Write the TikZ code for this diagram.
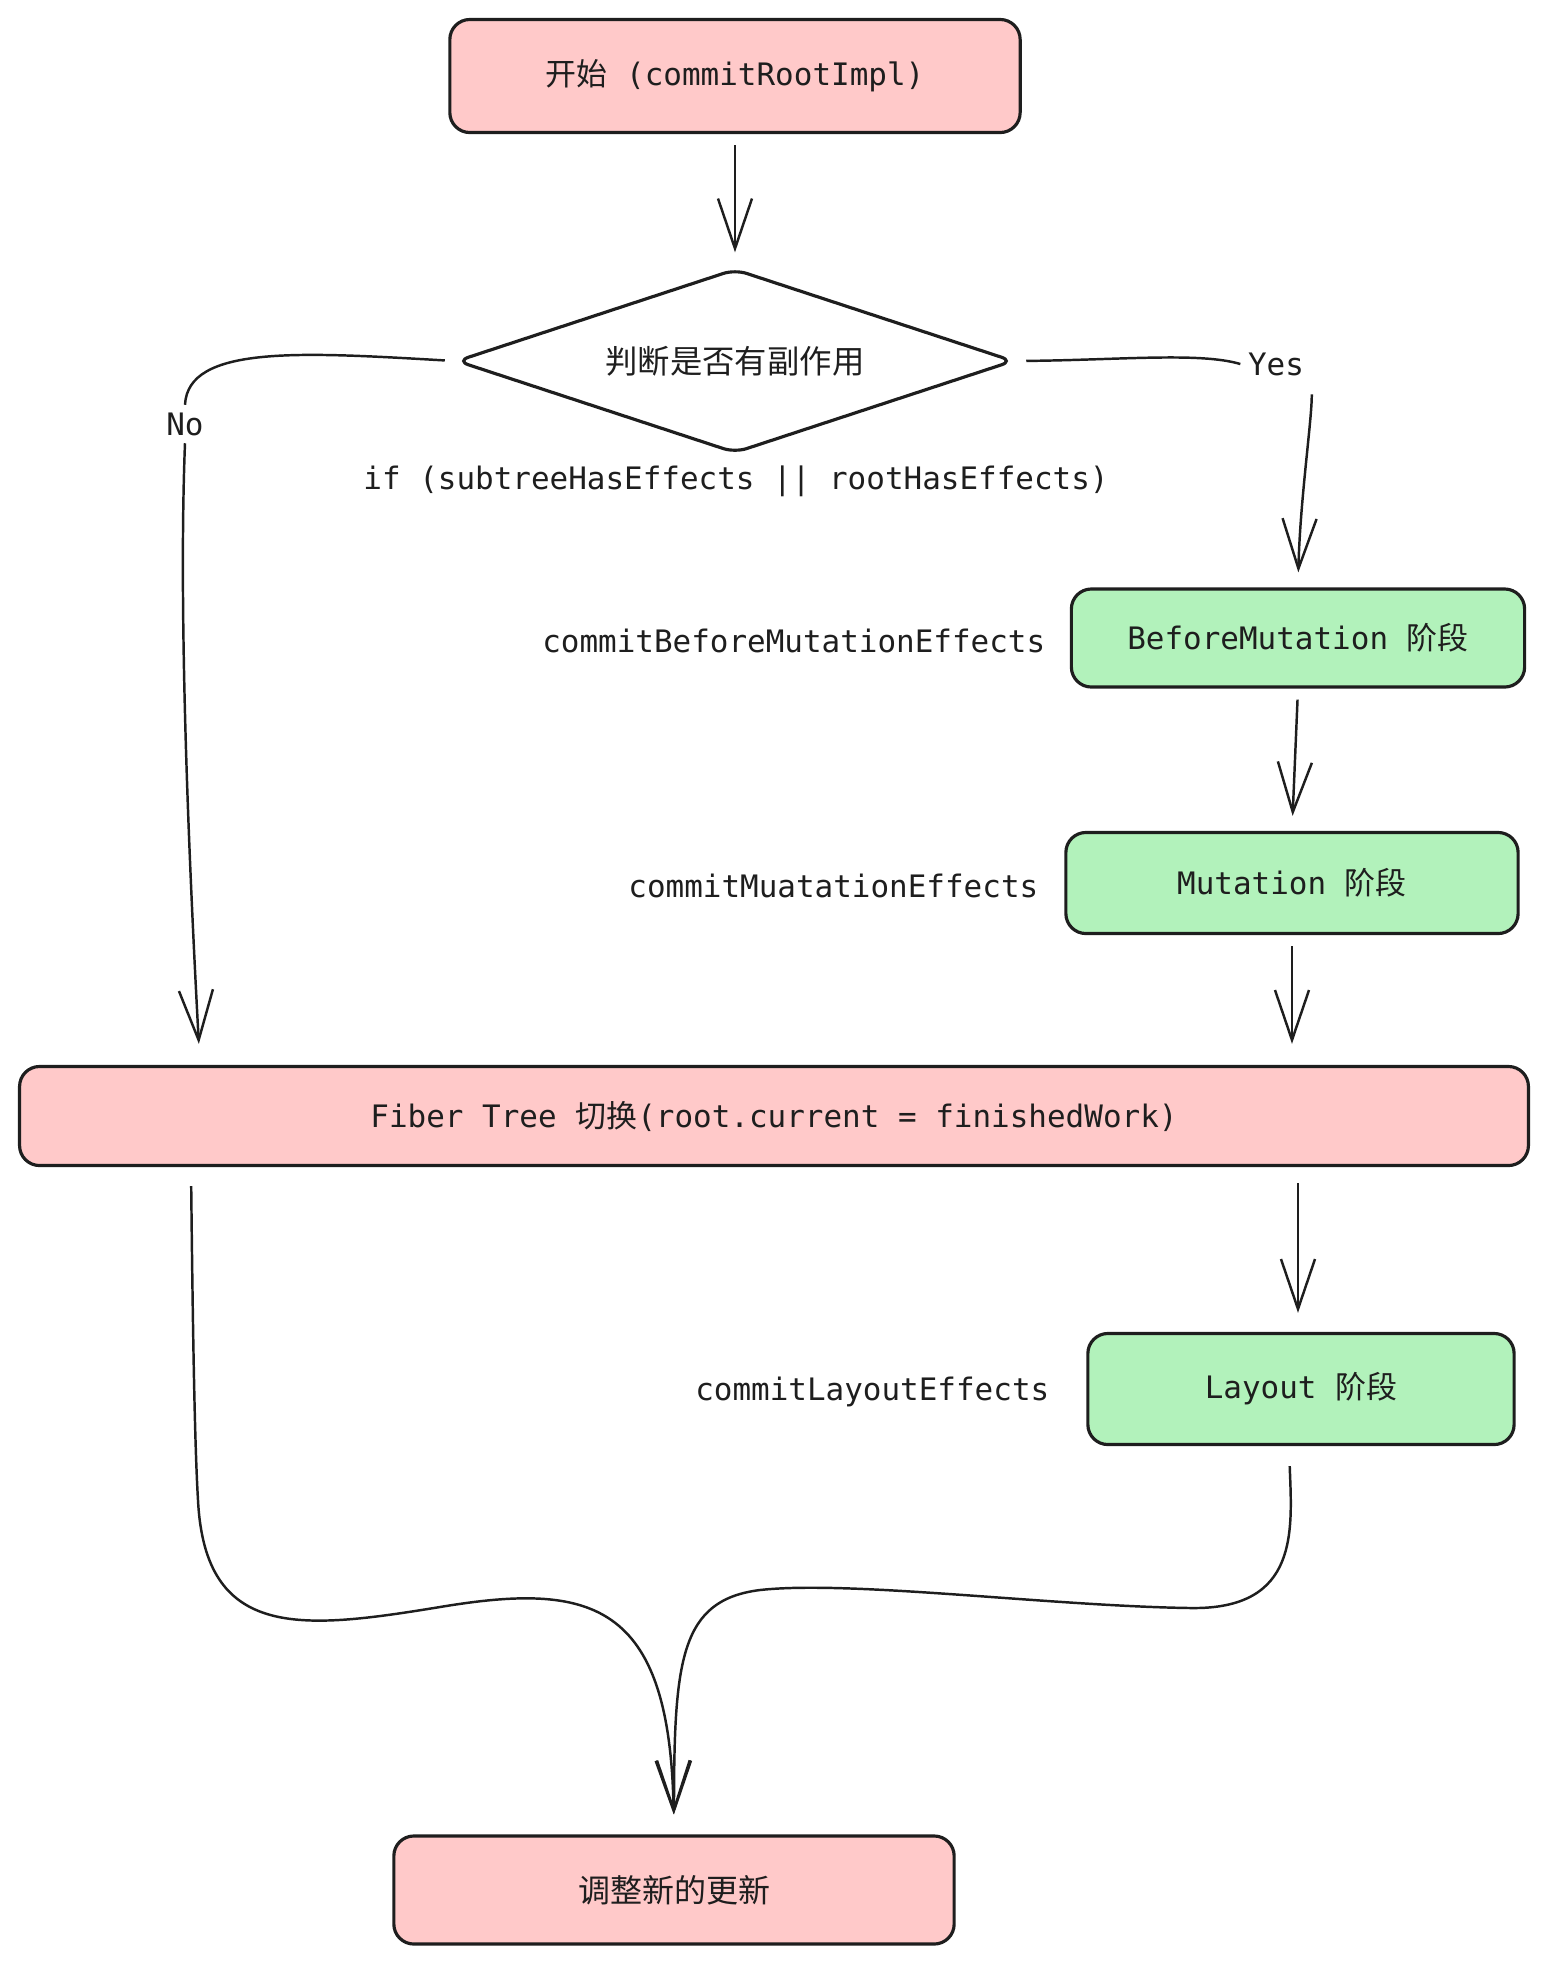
\documentclass[tikz,border=0pt]{standalone}
\usepackage{fontspec}
\setmonofont{DejaVu Sans Mono}
\newfontfamily\cjk{Noto Sans CJK SC}
\usetikzlibrary{arrows.meta,shapes.geometric}
\definecolor{boxpink}{HTML}{FFC9C9}
\definecolor{boxgreen}{HTML}{B2F2BB}
\definecolor{ink}{HTML}{1E1E1E}

\begin{document}
\begin{tikzpicture}[x=0.01cm,y=-0.01cm,
  txt/.style={font=\fontsize{8.8pt}{10pt}\ttfamily, text=ink, inner sep=0pt},
  stepbox/.style={draw=ink, line width=0.9pt, rounded corners=0.2cm, inner sep=0pt,
    font=\fontsize{8.8pt}{10pt}\ttfamily, text=ink},
  pinkbox/.style={stepbox, fill=boxpink},
  greenbox/.style={stepbox, fill=boxgreen},
  tip/.style={-{Straight Barb[length=5mm,width=3.4mm,line width=0.7pt]}},
  link/.style={draw=ink, line width=0.7pt},
  flow/.style={link, tip, shorten >=0.15cm, shorten <=0.11cm},
  branch/.style={txt, fill=white, inner sep=2pt}
]
\useasboundingbox (0,0) rectangle (1548,1962);

% boxes
\node[pinkbox, minimum width=5.7cm, minimum height=1.13cm] (start) at (735,76)
  {{\cjk 开始} (commitRootImpl)};
\node[diamond, draw=ink, line width=0.9pt, rounded corners=0.12cm, minimum width=5.57cm, minimum height=1.84cm,
  inner sep=0pt, aspect=3, text=ink, font=\cjk\fontsize{9.2pt}{11pt}\selectfont] (dec) at (735,361)
  {判断是否有副作用};
\node[txt] (cond) at (736,481) {if (subtreeHasEffects || rootHasEffects)};

\node[greenbox, minimum width=4.53cm, minimum height=0.98cm] (bm) at (1298,638)
  {BeforeMutation {\cjk 阶段}};
\node[txt, anchor=east] (bmlab) at (1046,641) {commitBeforeMutationEffects};

\node[greenbox, minimum width=4.52cm, minimum height=1.01cm] (mu) at (1292,883)
  {Mutation {\cjk 阶段}};
\node[txt, anchor=east] (mulab) at (1039,886) {commitMuatationEffects};

\node[pinkbox, minimum width=15.08cm, minimum height=0.99cm] (fiber) at (774,1116)
  {Fiber Tree {\cjk 切换}(root.current = finishedWork)};

\node[greenbox, minimum width=4.26cm, minimum height=1.11cm] (lay) at (1301,1389)
  {Layout {\cjk 阶段}};
\node[txt, anchor=east] (laylab) at (1050,1392) {commitLayoutEffects};

\node[pinkbox, minimum width=5.6cm, minimum height=1.08cm, font=\cjk\fontsize{9.1pt}{11pt}\selectfont]
  (fin) at (674,1890) {调整新的更新};

% branch labels
\node[branch] (no) at (185,424) {No};
\node[branch] (yes) at (1276,364) {Yes};

% connectors
\draw[flow] (start.south) -- (dec.north);

\draw[link, shorten <=0.1cm] (dec.west) .. controls (300,352) and (188,345) .. (no.north);
\draw[link, tip, shorten >=0.21cm] (no.south) .. controls (178,620) and (190,880) .. (fiber.north -| 200,0);

\draw[link, shorten <=0.11cm] (dec.east) .. controls (1120,360) and (1200,352) .. (yes.west);
\draw[flow] (yes.south east) .. controls (1312,420) and (1300,500) .. (bm.north);

\draw[flow] (bm.south) -- (mu.north);
\draw[flow, shorten >=0.21cm] (mu.south) -- (fiber.north -| mu.south);
\draw[flow, shorten <=0.16cm, shorten >=0.19cm] (fiber.south -| 1298,0) -- (lay.north -| 1298,0);

\draw[link, tip, shorten <=0.19cm, shorten >=0.2cm] (fiber.south -| 191,0)
  .. controls (193,1350) and (195,1450) .. (198,1500)
  .. controls (205,1640) and (300,1630) .. (440,1607)
  .. controls (590,1582) and (670,1600) .. (fin.north);
\draw[link, tip, shorten <=0.2cm, shorten >=0.2cm] (lay.south -| 1289,0)
  .. controls (1292,1530) and (1300,1610) .. (1190,1608)
  .. controls (1050,1606) and (850,1580) .. (760,1590)
  .. controls (680,1600) and (674,1660) .. (fin.north);
\end{tikzpicture}
\end{document}
